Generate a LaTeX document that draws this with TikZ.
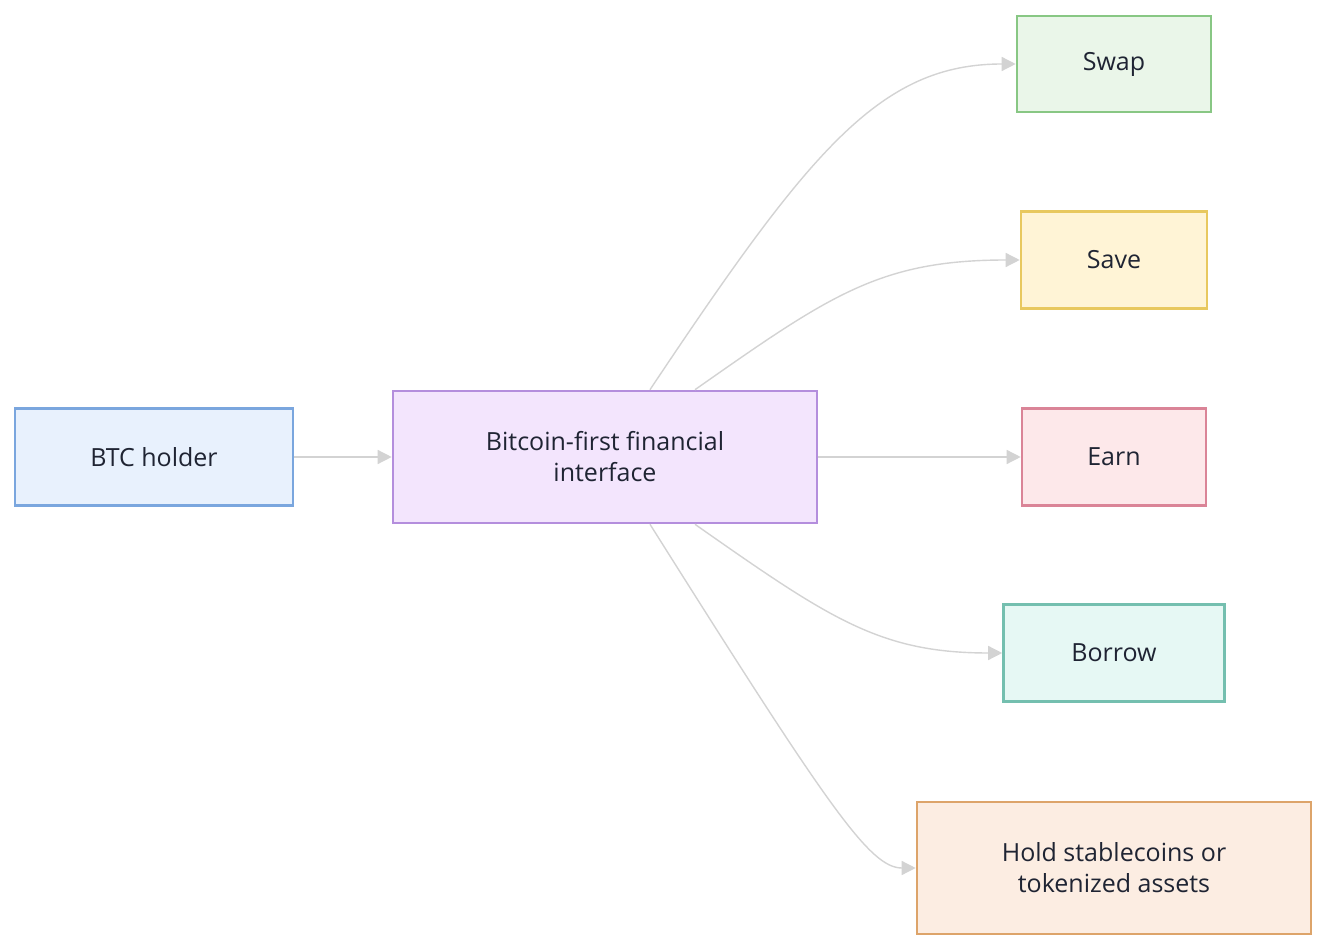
\documentclass[tikz,border=0pt]{standalone}
\usepackage{fontspec}
\setmainfont{Open Sans}
\usetikzlibrary{arrows.meta}
\definecolor{ec}{HTML}{D3D3D3}
\definecolor{tx}{HTML}{1F2433}
\begin{document}
\begin{tikzpicture}[x=0.5pt,y=-0.5pt,
 box/.style={draw,line width=1.3pt,inner sep=0pt,align=center,font=\fontsize{12.5}{15.5}\selectfont,text=tx},
 ed/.style={draw=ec,line width=0.7pt,-{Triangle[length=7pt,width=7pt,fill=ec]}}]
\useasboundingbox (0,0) rectangle (1328,951);
\node[box,draw=blue!50!cyan!60!gray,draw={rgb,255:red,122;green,166;blue,222},fill={rgb,255:red,232;green,241;blue,253},minimum width=139pt,minimum height=48.5pt] (btc) at (154,457) {BTC holder};
\node[box,draw={rgb,255:red,180;green,142;blue,221},fill={rgb,255:red,243;green,229;blue,253},minimum width=212pt,minimum height=66pt] (bf) at (605,457) {Bitcoin-first financial\\interface};
\node[box,draw={rgb,255:red,136;green,199;blue,132},fill={rgb,255:red,234;green,246;blue,233},minimum width=97pt,minimum height=48pt] (swap) at (1114,64) {Swap};
\node[box,draw={rgb,255:red,232;green,200;blue,95},fill={rgb,255:red,255;green,244;blue,214},minimum width=93pt,minimum height=48.5pt] (save) at (1114,260) {Save};
\node[box,draw={rgb,255:red,218;green,132;blue,151},fill={rgb,255:red,253;green,232;blue,234},minimum width=92pt,minimum height=48.5pt] (earn) at (1114,457) {Earn};
\node[box,draw={rgb,255:red,116;green,191;blue,175},fill={rgb,255:red,230;green,248;blue,244},minimum width=110.5pt,minimum height=48.5pt] (borrow) at (1114,653) {Borrow};
\node[box,draw={rgb,255:red,221;green,164;blue,106},fill={rgb,255:red,252;green,237;blue,226},minimum width=197pt,minimum height=66pt] (hold) at (1114,868) {Hold stablecoins or\\tokenized assets};
\draw[ed] (btc.east) -- (bf.west);
\draw[ed] (bf.east) -- (earn.west);
\draw[ed] ([xshift=22.5pt]bf.north) .. controls (810,150) and (880,64) .. (swap.west);
\draw[ed] ([xshift=45pt]bf.north) .. controls (830,295) and (880,260) .. (save.west);
\draw[ed] ([xshift=45pt]bf.south) .. controls (830,619) and (880,653) .. (borrow.west);
\draw[ed] ([xshift=22.5pt]bf.south) .. controls (830,810) and (870,868) .. (hold.west);
\end{tikzpicture}
\end{document}
